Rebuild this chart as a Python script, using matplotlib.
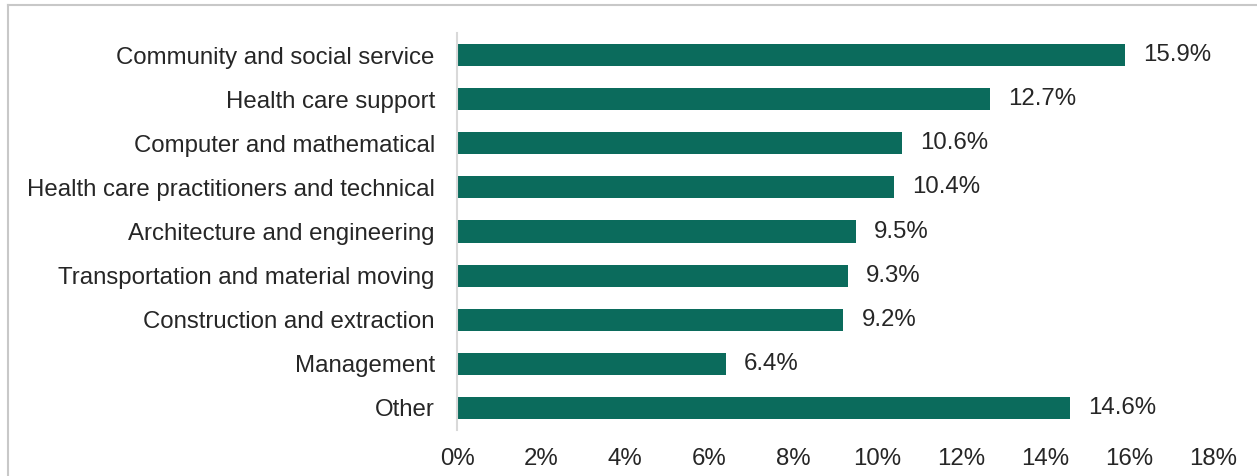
import matplotlib.pyplot as plt
from matplotlib.lines import Line2D

plt.rcParams['font.family'] = ['Liberation Sans', 'DejaVu Sans']

categories = [
    "Community and social service",
    "Health care support",
    "Computer and mathematical",
    "Health care practitioners and technical",
    "Architecture and engineering",
    "Transportation and material moving",
    "Construction and extraction",
    "Management",
    "Other",
]
values = [15.9, 12.7, 10.6, 10.4, 9.5, 9.3, 9.2, 6.4, 14.6]
xticks = [0, 2, 4, 6, 8, 10, 12, 14, 16, 18]

bar_color = "#0B6B5C"
text_color = "#262626"
fs = 17.3

fig = plt.figure(figsize=(12.57, 4.76), dpi=100)
ax = fig.add_axes([0.3636, 0.0966, 0.6014, 0.8341])

ypos = list(range(len(categories)))
ax.barh(ypos, values, height=0.5, color=bar_color)
for y, v in zip(ypos, values):
    ax.annotate(f"{v}%", xy=(v, y), xytext=(13, 0), textcoords="offset points",
                va="center", ha="left", fontsize=fs, color=text_color)

ax.set_ylim(len(categories) - 0.5, -0.5)
ax.set_xlim(0, 18)
ax.set_yticks(ypos)
ax.set_yticklabels(categories, fontsize=fs, color=text_color)
ax.set_xticks(xticks)
ax.set_xticklabels([f"{t}%" for t in xticks], fontsize=fs, color=text_color)
ax.tick_params(axis="both", length=0)
ax.tick_params(axis="y", pad=16)
ax.tick_params(axis="x", pad=13)

for side in ["top", "right", "bottom"]:
    ax.spines[side].set_visible(False)
ax.spines["left"].set_color("#D9D9D9")
ax.spines["left"].set_linewidth(1.5)

# outer frame (left and top edges visible)
fig.add_artist(Line2D([8 / 1257, 8 / 1257], [0, 1 - 5 / 476], color="#C8C8C8", lw=1.5))
fig.add_artist(Line2D([8 / 1257, 1], [1 - 5 / 476, 1 - 5 / 476], color="#C8C8C8", lw=1.5))

fig.savefig("out.png", dpi=100)
